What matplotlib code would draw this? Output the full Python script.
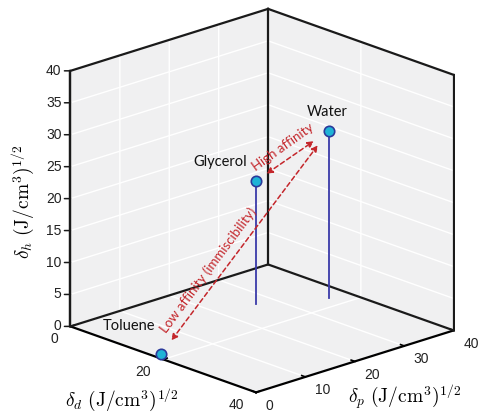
import matplotlib
matplotlib.use("Agg")
import matplotlib.pyplot as plt
from mpl_toolkits.mplot3d import proj3d

# Hansen-type solubility parameters
solvents = ["Toluene", "Glycerol", "Water"]
delta_d = [18.0, 11.6, 17.0]
delta_p = [1.5, 26.7, 36.3]
delta_h = [0.0, 19.3, 26.2]

d_ticks = [0, 20, 40]
p_ticks = [0, 10, 20, 30, 40]
h_ticks = [0, 5, 10, 15, 20, 25, 30, 35, 40]
lim = (0, 40)

plt.rcParams["mathtext.fontset"] = "cm"
plt.rcParams["grid.color"] = "white"
plt.rcParams["grid.linewidth"] = 1.0
plt.rcParams["font.family"] = ["Liberation Sans", "DejaVu Sans"]

fig = plt.figure(figsize=(4.78, 4.14), dpi=100)
ax = fig.add_axes([0.077, 0.02, 0.92, 0.96], projection="3d")
ax.set_proj_type("ortho")
ax.set_box_aspect((1, 1, 1), zoom=1.147)
ax.view_init(elev=19.5, azim=-43.2)

ax.set_xlim(*lim)
ax.set_ylim(*lim)
ax.set_zlim(*lim)
# tick labels are placed by hand below, MATLAB style
ax.set_xticks(d_ticks, labels=[""] * len(d_ticks))
ax.set_yticks(p_ticks, labels=[""] * len(p_ticks))
ax.set_zticks(h_ticks, labels=[""] * len(h_ticks))

pane = (0.94, 0.94, 0.945)
for axis in (ax.xaxis, ax.yaxis, ax.zaxis):
    axis.set_pane_color(pane)
    axis.pane.set_linewidth(0)
    axis.line.set_color("black")
    axis.line.set_linewidth(1.6)
    axis._axinfo["tick"]["inward_factor"] = 0.0
    axis._axinfo["tick"]["outward_factor"] = 0.25
    axis._axinfo["tick"]["linewidth"] = {True: 1.2, False: 0.8}
    axis._axinfo["grid"]["color"] = "white"
    axis._axinfo["grid"]["linewidth"] = 1.0
ax.zaxis.set_ticks_position("lower")
# z ticks are drawn flat, by hand
ax.zaxis._axinfo["tick"]["linewidth"] = {True: 0.0, False: 0.0}

# back walls outline of the box
lo, hi = lim
box_edges = [
    ([lo, lo], [lo, lo], [lo, hi]),
    ([lo, lo], [lo, hi], [hi, hi]),
    ([lo, lo], [hi, hi], [lo, hi]),
    ([lo, lo], [lo, hi], [lo, lo]),
    ([lo, hi], [hi, hi], [hi, hi]),
    ([hi, hi], [hi, hi], [lo, hi]),
    ([lo, hi], [hi, hi], [lo, lo]),
]
for ex, ey, ez in box_edges:
    ax.plot(ex, ey, ez, color="#1a1a1a", lw=1.6, zorder=0)

# stems + markers
for x, y, z in zip(delta_d, delta_p, delta_h):
    if z > 0:
        ax.plot([x, x], [y, y], [0, z], color="#3a3aa8", lw=1.3)
    ax.plot([x], [y], [z], marker="o", ms=7.5, mfc="#1fb3d6",
            mec="#2b3a9b", mew=1.2, ls="none")

fig.canvas.draw()
M = ax.get_proj()


def proj(x, y, z):
    px, py, _ = proj3d.proj_transform(x, y, z, M)
    return px, py


px2pt = 72 / fig.dpi
tick_kw = dict(textcoords="offset points", fontsize=10, color="#222222",
               va="center")
for t in d_ticks:
    ax.annotate(str(t), xy=proj(t, lo, lo), xytext=(-12 * px2pt, -12 * px2pt),
                ha="right", **tick_kw)
for t in p_ticks:
    ax.annotate(str(t), xy=proj(hi, t, lo), xytext=(9.5 * px2pt, -12.5 * px2pt),
                ha="left", **tick_kw)
for t in h_ticks:
    ax.annotate(str(t), xy=proj(lo, lo, t), xytext=(-9 * px2pt, 1 * px2pt),
                ha="right", **tick_kw)
    ax.annotate("", xy=proj(lo, lo, t), xytext=(-6 * px2pt, 0),
                textcoords="offset points",
                arrowprops=dict(arrowstyle="-", color="#1a1a1a", lw=1.1,
                                shrinkA=0, shrinkB=0))

pts = {}
for name, x, y, z in zip(solvents, delta_d, delta_p, delta_h):
    pts[name] = proj(x, y, z)

red = "#c4262b"
arrow_kw = dict(arrowstyle="<|-|>", color=red, lw=1.1, ls=(0, (3, 2)),
                mutation_scale=9)
ax.annotate("", xy=pts["Water"], xytext=pts["Glycerol"],
            arrowprops=dict(shrinkA=9, shrinkB=13, **arrow_kw))
ax.annotate("", xy=pts["Water"], xytext=pts["Toluene"],
            arrowprops=dict(shrinkA=12, shrinkB=13, **arrow_kw))

label_font = ["Lato", "DejaVu Sans"]
ax.annotate("High affinity", xy=pts["Glycerol"], xytext=(19, 25),
            textcoords="offset points", rotation=35.5, color=red,
            fontsize=9.5, family=label_font, ha="center", va="center")
ax.annotate("Low affinity (immiscibility)", xy=pts["Toluene"], xytext=(34, 61),
            textcoords="offset points", rotation=53.4, color=red,
            fontsize=9.5, family=label_font, ha="center", va="center")

offsets = {"Water": (-1, 14), "Glycerol": (-26, 14), "Toluene": (-23, 21)}
for name in solvents:
    ax.annotate(name, xy=pts[name], xytext=offsets[name],
                textcoords="offset points", fontsize=10.5, family=label_font,
                ha="center", va="center", color="#111111")

ax.set_xlabel("")
ax.set_ylabel("")
ax.set_zlabel("")
fig.text(0.255, 0.034, r"$\delta_d\ (\mathrm{J/cm}^3)^{1/2}$", fontsize=14,
         ha="center", va="center")
fig.text(0.847, 0.039, r"$\delta_p\ (\mathrm{J/cm}^3)^{1/2}$", fontsize=14,
         ha="center", va="center")
fig.text(0.048, 0.512, r"$\delta_h\ (\mathrm{J/cm}^3)^{1/2}$", fontsize=14,
         ha="center", va="center", rotation=90)

fig.savefig("out.png", dpi=100)
